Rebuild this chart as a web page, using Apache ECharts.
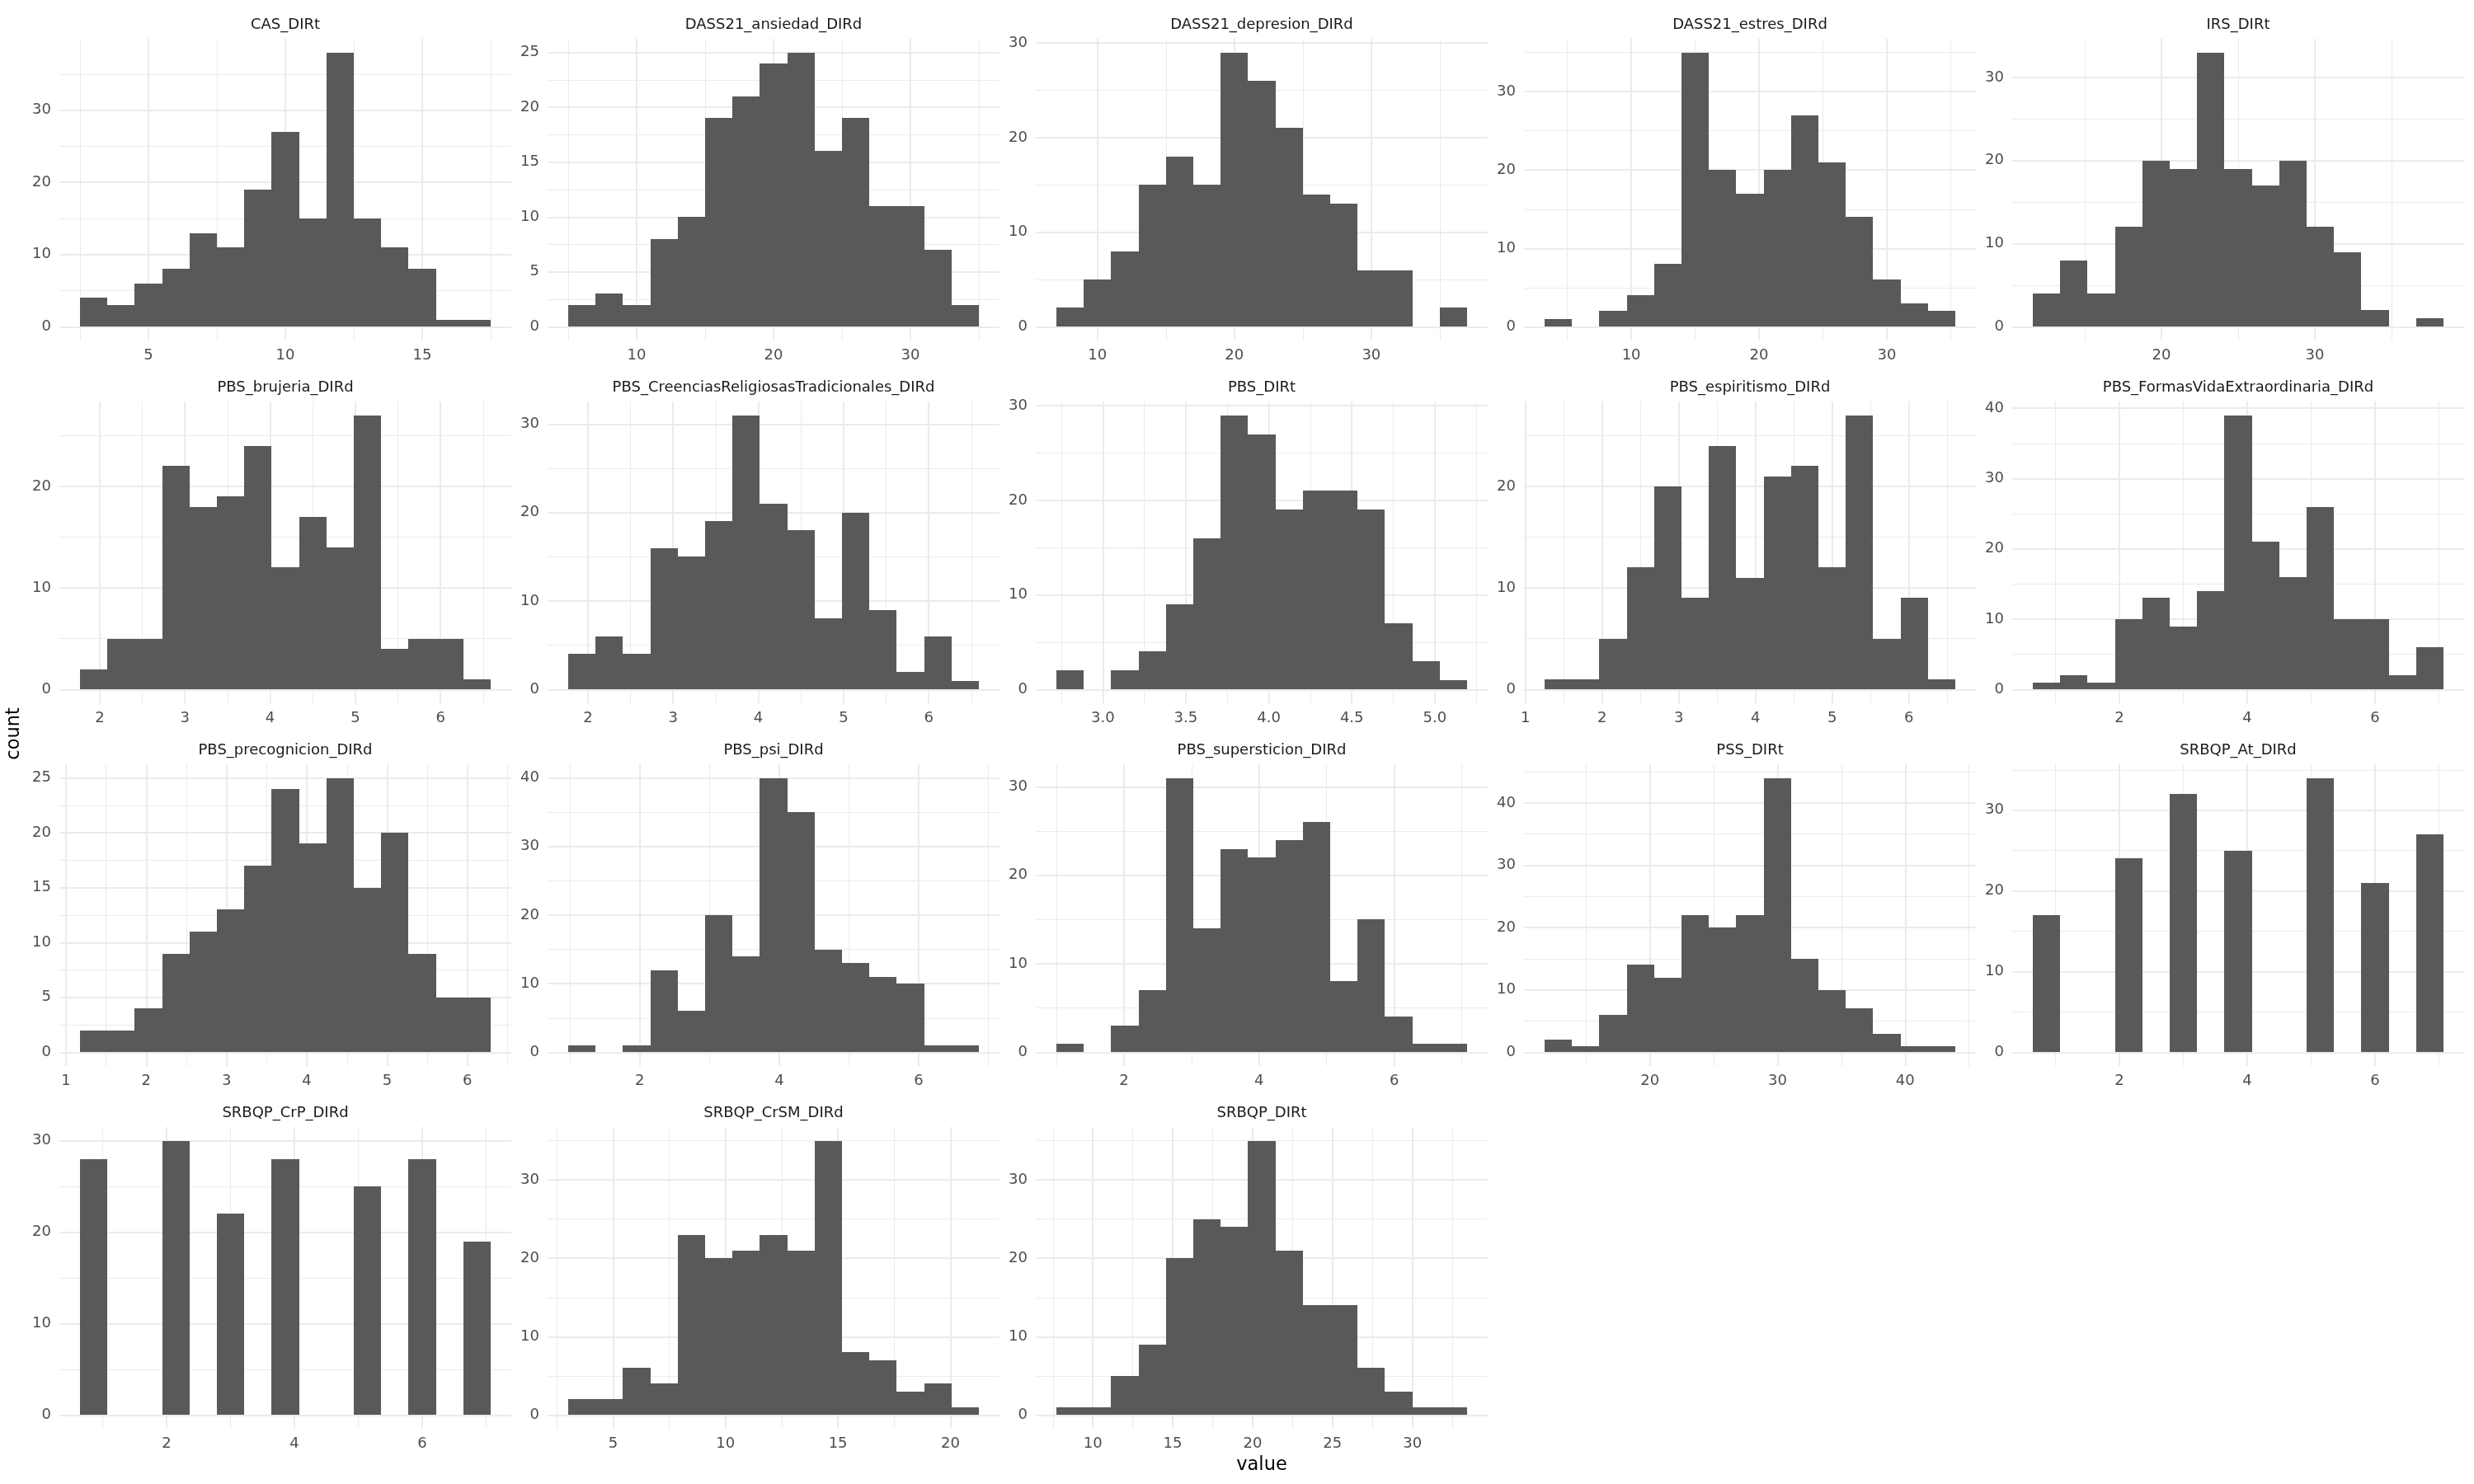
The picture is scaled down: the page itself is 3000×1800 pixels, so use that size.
<!DOCTYPE html>
<html><head><meta charset="utf-8">
<script src="https://cdn.jsdelivr.net/npm/echarts@6/dist/echarts.min.js"></script>
<style>html,body{margin:0;padding:0;background:#fff}#c{width:3000px;height:1800px}</style>
</head><body><div id="c"></div>
<script>
// ---------- DATA ----------
const panelNames = ['CAS_DIRt','DASS21_ansiedad_DIRd','DASS21_depresion_DIRd','DASS21_estres_DIRd','IRS_DIRt',
  'PBS_brujeria_DIRd','PBS_CreenciasReligiosasTradicionales_DIRd','PBS_DIRt','PBS_espiritismo_DIRd','PBS_FormasVidaExtraordinaria_DIRd',
  'PBS_precognicion_DIRd','PBS_psi_DIRd','PBS_supersticion_DIRd','PSS_DIRt','SRBQP_At_DIRd',
  'SRBQP_CrP_DIRd','SRBQP_CrSM_DIRd','SRBQP_DIRt'];

const countsCAS          = [4,3,6,8,13,11,19,27,15,38,15,11,8,1,1];
const countsAnsiedad     = [2,3,2,8,10,19,21,24,25,16,19,11,11,7,2];
const countsDepresion    = [2,5,8,15,18,15,29,26,21,14,13,6,6,0,2];
const countsEstres       = [1,0,2,4,8,35,20,17,20,27,21,14,6,3,2];
const countsIRS          = [4,8,4,12,20,19,33,19,17,20,12,9,2,0,1];
const countsBrujeria     = [2,5,5,22,18,19,24,12,17,14,27,4,5,5,1];
const countsCreencias    = [4,6,4,16,15,19,31,21,18,8,20,9,2,6,1];
const countsPBS          = [2,0,2,4,9,16,29,27,19,21,21,19,7,3,1];
const countsEspiritismo  = [1,1,5,12,20,9,24,11,21,22,12,27,5,9,1];
const countsFormasVida   = [1,2,1,10,13,9,14,39,21,16,26,10,10,2,6];
const countsPrecognicion = [2,2,4,9,11,13,17,24,19,25,15,20,9,5,5];
const countsPsi          = [1,0,1,12,6,20,14,40,35,15,13,11,10,1,1];
const countsSupersticion = [1,0,3,7,31,14,23,22,24,26,8,15,4,1,1];
const countsPSS          = [2,1,6,14,12,22,20,22,44,15,10,7,3,1,1];
const countsAt           = [17,0,0,24,0,32,0,25,0,0,34,0,21,0,27];
const countsCrP          = [28,0,0,30,0,22,0,28,0,0,25,0,28,0,19];
const countsCrSM         = [2,2,6,4,23,20,21,23,21,35,8,7,3,4,1];
const countsSRBQP        = [1,1,5,9,20,25,24,35,21,14,14,6,3,1,1];

// left edge of the first bin and bin width (value units)
const binStart = [2.5, 5, 7, 3.214, 11.607, 1.768, 1.768, 2.72, 1.25, 0.643, 1.175, 0.972, 1.0, 11.75, 0.643, 0.643, 3.0, 7.714];
const binWidth = [1, 2, 2, 2.1429, 1.7857, 0.3214, 0.3214, 0.165, 0.3571, 0.4286, 0.341, 0.3929, 0.4053, 2.145, 0.4286, 0.4286, 1.218, 1.7143];

// tick labels
const xTicks = [[5,10,15],[10,20,30],[10,20,30],[10,20,30],[20,30],
  [2,3,4,5,6],[2,3,4,5,6],[3,3.5,4,4.5,5],[1,2,3,4,5,6],[2,4,6],
  [1,2,3,4,5,6],[2,4,6],[2,4,6],[20,30,40],[2,4,6],
  [2,4,6],[5,10,15,20],[10,15,20,25,30]];
const xDecimals = [0,0,0,0,0, 0,0,1,0,0, 0,0,0,0,0, 0,0,0];
const yTicks = [[0,10,20,30],[0,5,10,15,20,25],[0,10,20,30],[0,10,20,30],[0,10,20,30],
  [0,10,20],[0,10,20,30],[0,10,20,30],[0,10,20],[0,10,20,30,40],
  [0,5,10,15,20,25],[0,10,20,30,40],[0,10,20,30],[0,10,20,30,40],[0,10,20,30],
  [0,10,20,30],[0,10,20,30],[0,10,20,30]];

const allCounts = [countsCAS,countsAnsiedad,countsDepresion,countsEstres,countsIRS,
  countsBrujeria,countsCreencias,countsPBS,countsEspiritismo,countsFormasVida,
  countsPrecognicion,countsPsi,countsSupersticion,countsPSS,countsAt,
  countsCrP,countsCrSM,countsSRBQP];

// ---------- LAYOUT / STYLE ----------
const FONT = 'DejaVu Sans';
const left0 = 72, colStep = 592, top0 = 47, rowStep = 440, pw = 548, ph = 366;
const gridColor = '#EBEBEB';

function minorTicks(ticks, lo, hi) {
  const s = ticks[1] - ticks[0], out = [];
  for (let v = ticks[0] - s / 2; v >= lo; v -= s) out.push(v);
  for (let v = ticks[0] + s / 2; v <= hi + 1e-9; v += s) out.push(v);
  return out.filter(v => v >= lo && v <= hi);
}

function renderBar(params, api) {
  const a = api.coord([api.value(0), api.value(2)]);
  const b = api.coord([api.value(1), 0]);
  const x0 = Math.round(a[0]), x1 = Math.round(b[0]);
  const y0 = Math.round(a[1]), y1 = Math.round(b[1]);
  return { type: 'rect', shape: { x: x0, y: y0, width: x1 - x0, height: y1 - y0 }, style: { fill: '#595959' } };
}

const grids = [], xAxes = [], yAxes = [], series = [], graphics = [];

panelNames.forEach((name, i) => {
  const r = Math.floor(i / 5), c = i % 5;
  const counts = allCounts[i];
  const n = counts.length, w = binWidth[i], s = binStart[i];
  const e = s + n * w;
  const xlo = s - 0.05 * (e - s), xhi = e + 0.05 * (e - s);
  const M = Math.max.apply(null, counts);
  const ylo = -0.05 * M, yhi = 1.05 * M;
  const gl = left0 + c * colStep, gt = top0 + r * rowStep;

  grids.push({ left: gl, top: gt, width: pw, height: ph, containLabel: false, outerBoundsMode: 'none' });

  const dec = xDecimals[i];
  xAxes.push({
    type: 'value', gridIndex: i, min: xlo, max: xhi, position: 'bottom',
    axisLine: { show: false, onZero: false },
    axisTick: { show: false, customValues: xTicks[i] },
    axisLabel: { customValues: xTicks[i], formatter: v => Number(v).toFixed(dec), fontFamily: FONT, fontSize: 18, color: '#4D4D4D', margin: 9 },
    splitLine: { show: true, lineStyle: { color: gridColor, width: 2 } }
  });
  xAxes.push({
    type: 'value', gridIndex: i, min: xlo, max: xhi, position: 'top',
    axisLine: { show: false, onZero: false },
    axisTick: { show: false, customValues: minorTicks(xTicks[i], xlo, xhi) },
    axisLabel: { show: false },
    splitLine: { show: true, lineStyle: { color: gridColor, width: 1 } }
  });
  yAxes.push({
    type: 'value', gridIndex: i, min: ylo, max: yhi, position: 'left',
    axisLine: { show: false, onZero: false },
    axisTick: { show: false, customValues: yTicks[i] },
    axisLabel: { customValues: yTicks[i], formatter: v => String(Math.round(v * 100) / 100), fontFamily: FONT, fontSize: 18, color: '#4D4D4D', margin: 10 },
    splitLine: { show: true, lineStyle: { color: gridColor, width: 2 } }
  });
  yAxes.push({
    type: 'value', gridIndex: i, min: ylo, max: yhi, position: 'right',
    axisLine: { show: false, onZero: false },
    axisTick: { show: false, customValues: minorTicks(yTicks[i], ylo, yhi) },
    axisLabel: { show: false },
    splitLine: { show: true, lineStyle: { color: gridColor, width: 1 } }
  });

  const data = counts.map((cnt, k) => [s + k * w, s + (k + 1) * w, cnt]);
  series.push({
    type: 'custom', name: name, xAxisIndex: 2 * i, yAxisIndex: 2 * i,
    renderItem: renderBar, encode: { x: [0, 1], y: 2 }, data: data,
    clip: false, silent: true, z: 5
  });

  graphics.push({
    type: 'text', x: gl + pw / 2, y: 30 + r * rowStep, silent: true,
    style: { text: name, fill: '#1A1A1A', fontFamily: FONT, fontSize: 18, align: 'center', verticalAlign: 'middle' }
  });
});

graphics.push({
  type: 'text', x: left0 + (4 * colStep + pw) / 2, y: 1777, silent: true,
  style: { text: 'value', fill: '#000000', fontFamily: FONT, fontSize: 22.5, align: 'center', verticalAlign: 'middle' }
});
graphics.push({
  type: 'text', x: 17, y: top0 + (3 * rowStep + ph) / 2, rotation: Math.PI / 2, silent: true,
  style: { text: 'count', fill: '#000000', fontFamily: FONT, fontSize: 22.5, align: 'center', verticalAlign: 'middle' }
});

const chart = echarts.init(document.getElementById('c'), null, { renderer: 'canvas', width: 3000, height: 1800 });
chart.setOption({
  backgroundColor: '#FFFFFF',
  animation: false,
  textStyle: { fontFamily: FONT },
  grid: grids, xAxis: xAxes, yAxis: yAxes, series: series, graphic: graphics
});
</script>
</body></html>
